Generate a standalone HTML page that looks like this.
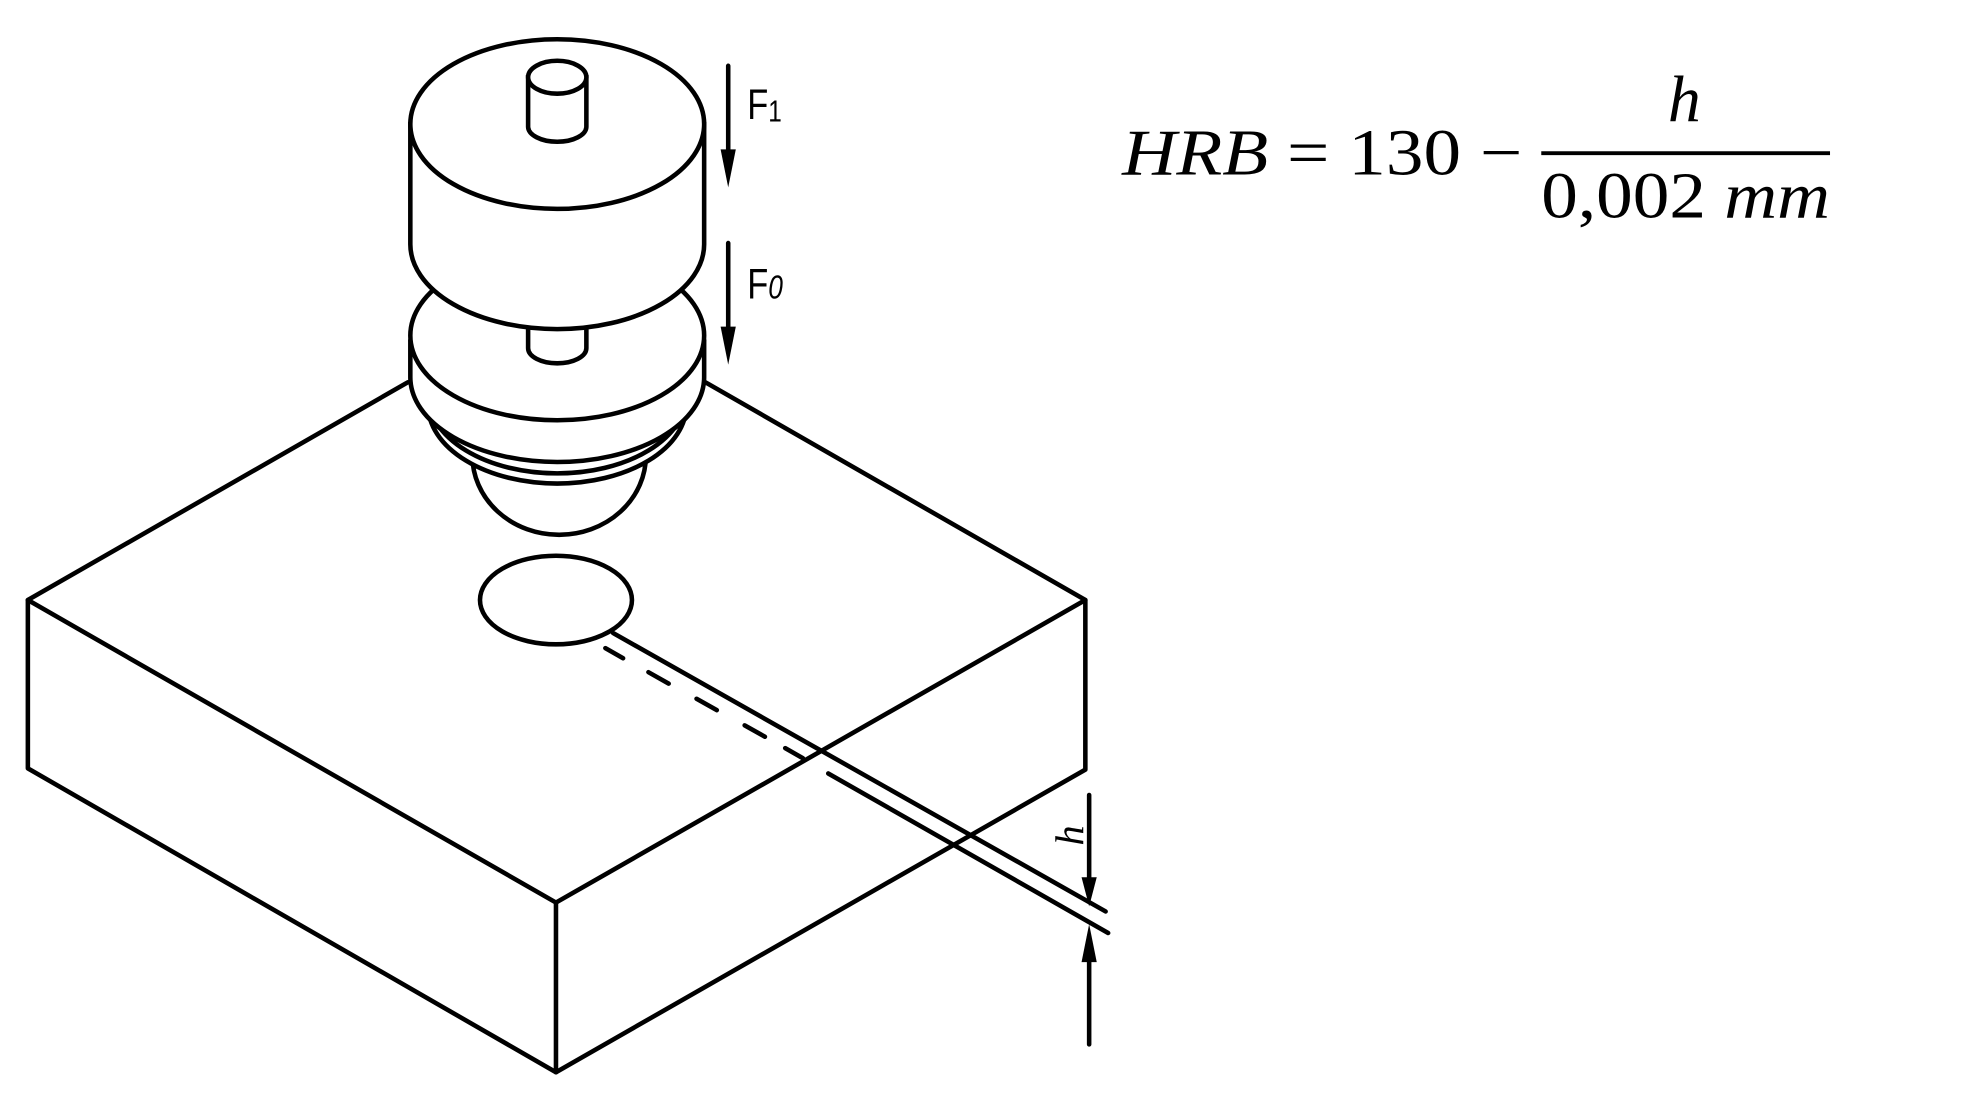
<!DOCTYPE html>
<html><head><meta charset="utf-8"><style>
html,body{margin:0;padding:0;background:#fff;width:1963px;height:1095px;overflow:hidden}
svg{display:block}
</style></head><body>
<svg width="1963" height="1095" viewBox="0 0 1550 865" preserveAspectRatio="none" xmlns="http://www.w3.org/2000/svg">
<g fill="none" stroke="#000" stroke-width="3.6" stroke-linecap="round" stroke-linejoin="round">
<path d="M322,302 L22,474 L22,607 L439,847 L857,608 L857,474 L557,302"/>
<path d="M22,474 L439,713 L857,474"/>
<path d="M439,713 L439,847"/>
<ellipse cx="439" cy="474" rx="60" ry="35" fill="#fff"/>
<path d="M484,500 L873,720"/>
<path d="M478,512 L492,520 M512,531 L528,540 M550,552 L566,561 M588,573 L604,582 M620,591 L634,599"/>
<path d="M654,611 L875,737"/>
<path d="M860,628 L860,706 M860,740 L860,825"/>
</g>
<g fill="#000">
<path d="M860,716 L854,693 L866,693 Z"/>
<path d="M860,730 L854,760 L866,760 Z"/>
<path d="M575,148 L569,118 L581,118 Z"/>
<path d="M575,288 L569,258 L581,258 Z"/>
</g>
<g fill="none" stroke="#000" stroke-width="3.6" stroke-linecap="round">
<path d="M575,52 L575,125 M575,192 L575,265"/>
</g>
<g fill="#fff" stroke="#000" stroke-width="3.6">
<path d="M373,360 A68,62 0 0 0 510,360 Z"/>
<path d="M338,318 L338,320 A102,62 0 0 0 542,320 L542,318 Z"/>
<path d="M338,312 A102,62 0 0 0 542,312"/>
<path d="M324,270 L324,298 A116,67 0 0 0 556,298 L556,270 Z"/>
<ellipse cx="440" cy="265" rx="116" ry="67"/>
<path d="M417,255 L417,275 A23,12 0 0 0 463,275 L463,255 Z"/>
<path d="M324,98 L324,193 A116,67 0 0 0 556,193 L556,98 Z"/>
<ellipse cx="440" cy="98" rx="116" ry="67"/>
<path d="M417,61 L417,100 A23,12 0 0 0 463,100 L463,61 Z"/>
<ellipse cx="440" cy="61" rx="23" ry="13"/>
</g>
<g font-family="'Liberation Sans Narrow','Liberation Sans',sans-serif" fill="#000">
<text x="590" y="94" font-size="34" transform="translate(590,0) scale(0.8,1) translate(-590,0)">F<tspan font-size="24" dy="2">1</tspan></text>
<text x="590" y="236" font-size="34" transform="translate(590,0) scale(0.8,1) translate(-590,0)">F<tspan font-size="26" font-style="italic">0</tspan></text>
<text transform="translate(855,668) rotate(-90)" font-family="'Liberation Serif',serif" font-style="italic" font-size="32">h</text>
</g>
<g font-family="'Liberation Serif',serif" font-size="52" fill="#000">
<text x="886" y="138" textLength="316" lengthAdjust="spacingAndGlyphs"><tspan font-style="italic">HRB</tspan> = 130 −</text>
<text x="1330" y="96" text-anchor="middle" font-style="italic">h</text>
<text x="1217" y="172" textLength="228" lengthAdjust="spacingAndGlyphs">0,002 <tspan font-style="italic">mm</tspan></text>
</g>
<line x1="1217" y1="121" x2="1445" y2="121" stroke="#000" stroke-width="3"/>
</svg>
</body></html>
